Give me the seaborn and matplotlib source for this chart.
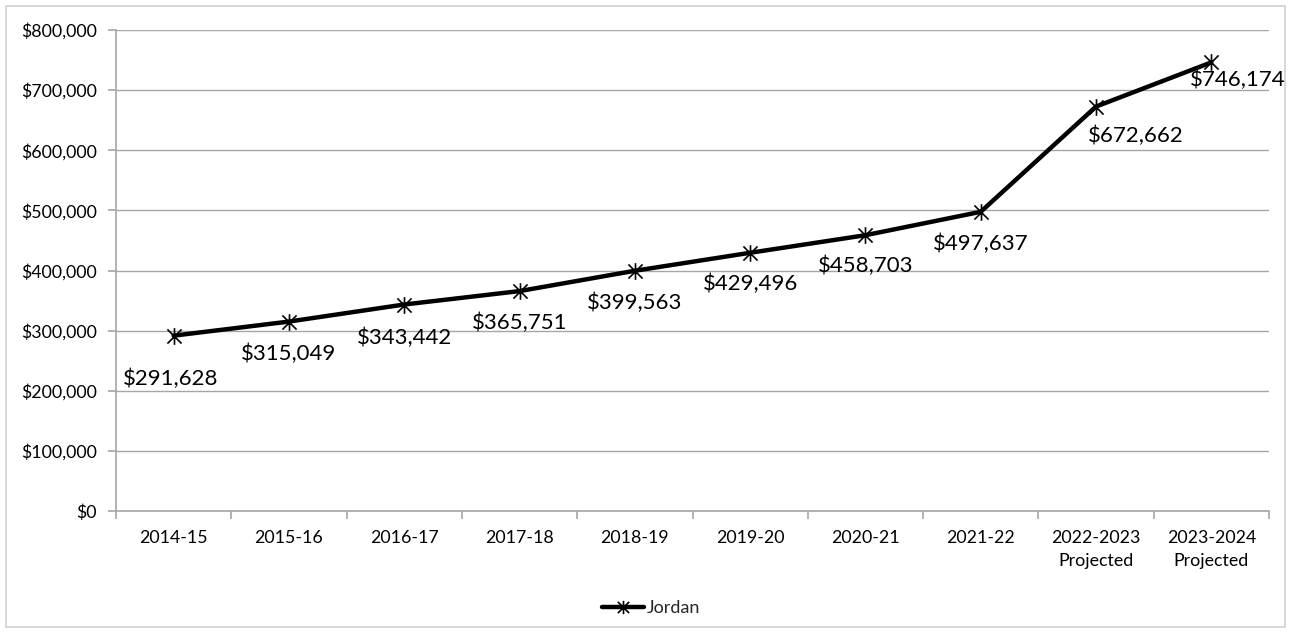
import pandas as pd
import matplotlib
matplotlib.use('Agg')
import matplotlib.pyplot as plt
import matplotlib.ticker as mtick
from matplotlib.patches import Rectangle
from matplotlib.path import Path
import seaborn as sns

seasons = ['2014-15', '2015-16', '2016-17', '2017-18', '2018-19', '2019-20',
           '2020-21', '2021-22', '2022-2023\nProjected', '2023-2024\nProjected']
jordan = [291628, 315049, 343442, 365751, 399563, 429496, 458703, 497637,
          672662, 746174]

df = pd.DataFrame({'season': seasons, 'value': jordan, 'name': 'Jordan'})

sns.set_theme(style='white')
plt.rcParams['font.family'] = ['Lato', 'DejaVu Sans']

# Excel-style star: X plus a vertical bar
star = Path([(0, -1), (0, 1), (-0.85, -0.85), (0.85, 0.85),
             (-0.85, 0.85), (0.85, -0.85)],
            [Path.MOVETO, Path.LINETO] * 3)

W, H = 1291, 633
fig = plt.figure(figsize=(W / 100, H / 100), dpi=100)
ax = fig.add_axes([116 / W, 1 - 511 / H, (1269 - 116) / W, (511 - 30) / H])

grid = '#A6A6A6'
sns.lineplot(data=df, x='season', y='value', hue='name', sort=False,
             palette=['black'], lw=3.2, marker=star, markersize=12,
             markeredgewidth=1.2, markeredgecolor='black', ax=ax, legend=True)

ax.set_xlim(-0.5, len(seasons) - 0.5)
ax.set_ylim(0, 800000)
ax.yaxis.set_major_locator(mtick.MultipleLocator(100000))
ax.yaxis.set_major_formatter(mtick.StrMethodFormatter('${x:,.0f}'))
ax.grid(axis='y', color=grid, lw=1)
ax.set_axisbelow(True)
ax.set_xlabel('')
ax.set_ylabel('')
for s in ['top', 'right']:
    ax.spines[s].set_visible(False)
for s in ['left', 'bottom']:
    ax.spines[s].set_color(grid)
    ax.spines[s].set_linewidth(1.2)

ax.set_xticks(range(len(seasons)))
ax.set_xticklabels(seasons, fontsize=12.8, color='black', linespacing=1.5)
ax.set_xticks([i - 0.5 for i in range(len(seasons) + 1)], minor=True)
ax.tick_params(axis='x', which='major', length=0, pad=14)
ax.tick_params(axis='x', which='minor', length=6, color=grid, width=1.2,
               direction='out')
ax.tick_params(axis='y', length=6, color=grid, width=1.2, direction='out',
               labelsize=12.8, labelcolor='black', pad=8)
ax.tick_params(axis='x', bottom=True, which='both')
ax.tick_params(axis='y', left=True)

# data labels (offsets in pixels)
dy = [-43, -32, -33, -32, -32, -31, -31, -32, -29, -18]
dx = [-3, 0, 0, 0, 0, 0, 0, 0, 40, 26]
for i, v in enumerate(jordan):
    ax.annotate(f'${v:,.0f}', (i, v), xytext=(dx[i], dy[i]),
                textcoords='offset pixels', ha='center', va='center',
                fontsize=16, color='black', annotation_clip=False)

handles, labels = ax.get_legend_handles_labels()
ax.get_legend().remove()
fig.legend(handles, labels, loc='center', bbox_to_anchor=(651 / W, 1 - 608 / H),
           frameon=False, fontsize=13, handlelength=2.3, handletextpad=0.15,
           markerscale=0.8)

fig.patches.append(Rectangle((6 / W, 6 / H), 1279 / W, 621 / H,
                             transform=fig.transFigure, fill=False,
                             edgecolor='#D0D0D0', lw=1.2))

fig.savefig('out.png', dpi=100)
